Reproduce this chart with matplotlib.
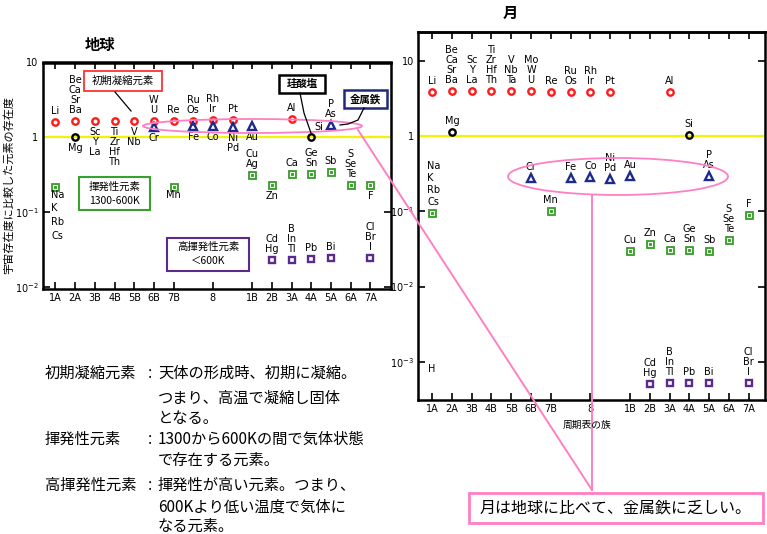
import matplotlib
matplotlib.use("Agg")
import matplotlib.pyplot as plt
from matplotlib.patches import Rectangle, Ellipse
from matplotlib.ticker import NullLocator

plt.rcParams['font.family'] = ['DejaVu Sans', 'Noto Sans CJK JP']
JP = ['Noto Sans CJK JP', 'DejaVu Sans']

W, H = 767, 534

# -----------------------------
# Data (group index on x, abundance relative to cosmic on y)
# -----------------------------
group_pos = [1, 2, 3, 4, 5, 6, 7, 9, 11, 12, 13, 14, 15, 16, 17]
group_lbl = ["1A", "2A", "3B", "4B", "5B", "6B", "7B", "8", "1B", "2B", "3A", "4A", "5A", "6A", "7A"]

# Earth
earth_refr_grp = [1, 2, 3, 4, 5, 6, 7, 8, 9, 10, 13]
earth_refr_val = [1.62, 1.66, 1.64, 1.64, 1.64, 1.64, 1.66, 1.66, 1.72, 1.70, 1.78]
earth_refr_lbl = ["Li", "Be\nCa\nSr\nBa", "Sc\nY\nLa", "Ti\nZr\nHf\nTh", "V\nNb", "W\nU",
                  "Re", "Ru\nOs", "Rh\nIr", "Pt", "Al"]

earth_silic_grp = [2, 14]
earth_silic_val = [1.0, 1.0]
earth_silic_lbl = ["Mg", "Si"]

earth_metal_grp = [6, 8, 9, 10, 11, 15]
earth_metal_val = [1.37, 1.40, 1.40, 1.36, 1.40, 1.45]
earth_metal_lbl = ["Cr", "Fe", "Co", "Ni\nPd", "Au", "P\nAs"]

earth_vol_grp = [1, 7, 11, 12, 13, 14, 15, 16, 17]
earth_vol_val = [0.22, 0.22, 0.32, 0.23, 0.33, 0.33, 0.345, 0.23, 0.23]
earth_vol_lbl = ["Na\nK\nRb\nCs", "Mn", "Cu\nAg", "Zn", "Ca", "Ge\nSn", "Sb", "S\nSe\nTe", "F"]

earth_hvol_grp = [12, 13, 14, 15, 17]
earth_hvol_val = [0.0234, 0.0234, 0.024, 0.0245, 0.0245]
earth_hvol_lbl = ["Cd\nHg", "B\nIn\nTl", "Pb", "Bi", "Cl\nBr\nI"]

# Moon
moon_refr_grp = [1, 2, 3, 4, 5, 6, 7, 8, 9, 10, 13]
moon_refr_val = [3.87, 3.99, 3.99, 3.99, 3.99, 3.99, 3.87, 3.87, 3.87, 3.80, 3.87]
moon_refr_lbl = ["Li", "Be\nCa\nSr\nBa", "Sc\nY\nLa", "Ti\nZr\nHf\nTh", "V\nNb\nTa", "Mo\nW\nU",
                 "Re", "Ru\nOs", "Rh\nIr", "Pt", "Al"]

moon_silic_grp = [2, 14]
moon_silic_val = [1.14, 1.03]
moon_silic_lbl = ["Mg", "Si"]

moon_metal_grp = [6, 8, 9, 10, 11, 15]
moon_metal_val = [0.279, 0.279, 0.288, 0.27, 0.29, 0.29]
moon_metal_lbl = ["Cr", "Fe", "Co", "Ni\nPd", "Au", "P\nAs"]

moon_vol_grp = [1, 7, 11, 12, 13, 14, 15, 16, 17]
moon_vol_val = [0.096, 0.10, 0.030, 0.037, 0.0303, 0.031, 0.0295, 0.041, 0.089]
moon_vol_lbl = ["Na\nK\nRb\nCs", "Mn", "Cu", "Zn", "Ca", "Ge\nSn", "Sb", "S\nSe\nTe", "F"]

moon_hvol_grp = [12, 13, 14, 15, 17]
moon_hvol_val = [5.1e-4, 5.3e-4, 5.2e-4, 5.3e-4, 5.3e-4]
moon_hvol_lbl = ["Cd\nHg", "B\nIn\nTl", "Pb", "Bi", "Cl\nBr\nI"]

moon_h_grp = 1
moon_h_val = 8.0e-4

# label placement: (dx px, dy px, ha, va, linespacing)
PLACE = {
    "up": (0, 6, "center", "bottom", 1.0),
    "dn": (0, -6, "center", "top", 1.0),
    "on": (0, -3, "center", "top", 1.0),
    "ur": (3, 5, "left", "bottom", 1.0),
    "na_dn": (-4, -3, "left", "top", 1.45),
    "na_up": (-5, 6, "left", "bottom", 1.25),
}

RED = "#ff1a1a"
NAVY = "#1c2a8c"
GREEN = "#3aa02c"
PURPLE = "#5b2a8e"
PINK = "#ff7fc4"
YELLOW = "#f2f20a"


def draw_group(ax, grp, val, lbl, side, kind):
    if kind == "refr":
        ax.plot(grp, val, ls="none", marker="o", ms=4.6, mfc="none", mec=RED, mew=1.7, zorder=4)
    elif kind == "silic":
        ax.plot(grp, val, ls="none", marker="o", ms=4.6, mfc="none", mec="black", mew=1.7, zorder=4)
    elif kind == "metal":
        ax.plot(grp, val, ls="none", marker="^", ms=5.5, mfc="none", mec=NAVY, mew=1.7, zorder=4)
    elif kind == "vol":
        ax.plot(grp, val, ls="none", marker="s", ms=5.4, mfc=GREEN, mec=GREEN, mew=0.6, zorder=4)
        ax.plot(grp, val, ls="none", marker="s", ms=2.4, mfc="none", mec="white", mew=0.8, zorder=5)
    elif kind == "hvol":
        ax.plot(grp, val, ls="none", marker="s", ms=4.6, mfc="none", mec=PURPLE, mew=1.7, zorder=4)
    for x, y, t, s in zip(grp, val, lbl, side):
        dx, dy, ha, va, lsp = PLACE[s]
        ax.annotate(t, (x, y), xytext=(dx, dy), textcoords="offset pixels",
                    ha=ha, va=va, fontsize=7, linespacing=lsp, zorder=6)


def style_axes(ax, xlim, ylim, yticks, yticklabels):
    ax.set_yscale("log")
    ax.set_xlim(*xlim)
    ax.set_ylim(*ylim)
    ax.set_xticks(group_pos)
    ax.set_xticklabels(group_lbl)
    ax.set_yticks(yticks)
    ax.set_yticklabels(yticklabels)
    ax.yaxis.set_minor_locator(NullLocator())
    ax.tick_params(axis="both", direction="in", length=5, width=1.2, labelsize=7,
                   right=True, top=False, pad=3)
    ax.tick_params(axis="y", pad=3, labelsize=7)
    top = ax.secondary_xaxis("top")
    top.set_xticks(list(range(1, 18)))
    top.tick_params(direction="in", length=5, width=1.2, labeltop=False)
    top.spines["top"].set_linewidth(1.8)
    for sp in ax.spines.values():
        sp.set_linewidth(1.8)
    ax.axhline(1.0, color=YELLOW, lw=1.6, zorder=2)


def px_rect(left, top, right, bottom):
    return [left / W, 1 - bottom / H, (right - left) / W, (bottom - top) / H]


fig = plt.figure(figsize=(W / 100, H / 100), dpi=100)

# -----------------------------
# Earth panel
# -----------------------------
axE = fig.add_axes(px_rect(42.7, 62.5, 391, 289))
style_axes(axE, (0.35, 18.05), (0.0095, 10.0), [0.01, 0.1, 1, 10],
           ["$10^{-2}$", "$10^{-1}$", "1", "10"])
draw_group(axE, earth_refr_grp, earth_refr_val, earth_refr_lbl,
           ["up", "up", "dn", "dn", "dn", "up", "up", "up", "up", "up", "up"], "refr")
draw_group(axE, earth_silic_grp, earth_silic_val, earth_silic_lbl, ["dn", "ur"], "silic")
draw_group(axE, earth_metal_grp, earth_metal_val, earth_metal_lbl,
           ["dn", "dn", "dn", "dn", "dn", "up"], "metal")
draw_group(axE, earth_vol_grp, earth_vol_val, earth_vol_lbl,
           ["na_dn", "on", "up", "dn", "up", "up", "up", "up", "dn"], "vol")
draw_group(axE, earth_hvol_grp, earth_hvol_val, earth_hvol_lbl, ["up"] * 5, "hvol")

# -----------------------------
# Moon panel
# -----------------------------
axM = fig.add_axes(px_rect(418, 32, 764.5, 400))
style_axes(axM, (0.29, 17.8), (3.12e-4, 24.0), [1e-3, 1e-2, 1e-1, 1, 10],
           ["$10^{-3}$", "$10^{-2}$", "$10^{-1}$", "1", "10"])
draw_group(axM, moon_refr_grp, moon_refr_val, moon_refr_lbl, ["up"] * 11, "refr")
draw_group(axM, moon_silic_grp, moon_silic_val, moon_silic_lbl, ["up", "up"], "silic")
draw_group(axM, moon_metal_grp, moon_metal_val, moon_metal_lbl, ["up"] * 6, "metal")
draw_group(axM, moon_vol_grp, moon_vol_val, moon_vol_lbl,
           ["na_up", "up", "up", "up", "up", "up", "up", "up", "up"], "vol")
draw_group(axM, moon_hvol_grp, moon_hvol_val, moon_hvol_lbl, ["up"] * 5, "hvol")
axM.text(moon_h_grp, moon_h_val, "H", fontsize=7, ha="center", va="center")

# -----------------------------
# Overlay: titles, boxes, pink callouts, notes (pixel coords)
# -----------------------------
ov = fig.add_axes([0, 0, 1, 1], zorder=10)
ov.set_xlim(0, W)
ov.set_ylim(H, 0)
ov.axis("off")

ov.text(100, 45, "地球", family=JP, fontsize=11, weight="bold", ha="center", va="center")
ov.text(510, 13, "月", family=JP, fontsize=11, weight="bold", ha="center", va="center")
ov.text(9, 185, "宇宙存在度に比較した元素の存在度", family=JP, fontsize=8,
        rotation=90, ha="center", va="center")
ov.text(587, 425, "周期表の族", family=JP, fontsize=7, ha="center", va="center")

# category boxes on the Earth panel
ov.add_patch(Rectangle((84, 71), 78, 20, fc="white", ec="#ff3030", lw=1.3))
ov.text(123, 81, "初期凝縮元素", family=JP, fontsize=7.5, ha="center", va="center")
ov.plot([115, 131], [92, 111], color="black", lw=0.9)

ov.add_patch(Rectangle((279, 75), 46, 18, fc="white", ec="black", lw=1.8))
ov.text(302, 84, "珪酸塩", family=JP, fontsize=7.5, weight="bold", ha="center", va="center")
ov.plot([300, 304, 311], [93, 113, 133], color="black", lw=0.9)

ov.add_patch(Rectangle((344, 90), 43, 18, fc="white", ec="#1f2a7a", lw=1.8))
ov.text(365.5, 99, "金属鉄", family=JP, fontsize=7.5, weight="bold", ha="center", va="center")
ov.plot([364, 358, 348, 340], [108, 120, 124, 125], color="black", lw=0.9)

ov.add_patch(Rectangle((79, 177), 71, 33, fc="white", ec=GREEN, lw=1.5))
ov.text(114.5, 187, "揮発性元素", family=JP, fontsize=7.5, ha="center", va="center")
ov.text(114.5, 201, "1300-600K", family=JP, fontsize=7.5, ha="center", va="center")

ov.add_patch(Rectangle((167, 238), 82, 33, fc="white", ec=PURPLE, lw=1.5))
ov.text(208, 247, "高揮発性元素", family=JP, fontsize=7.5, ha="center", va="center")
ov.text(208, 261, "＜600K", family=JP, fontsize=7.5, ha="center", va="center")

# pink callouts
ov.add_patch(Ellipse((252.5, 126), 219, 14, fill=False, ec=PINK, lw=1.3))
ov.add_patch(Ellipse((618, 176.5), 220, 37, fill=False, ec=PINK, lw=1.3))
ov.plot([358, 592], [130, 490], color=PINK, lw=1.4)
ov.plot([592, 592], [195, 490], color=PINK, lw=1.4)
ov.add_patch(Rectangle((469, 493), 294, 30, fc="white", ec=PINK, lw=2))
ov.text(616, 508, "月は地球に比べて、金属鉄に乏しい。", family=JP, fontsize=11.5,
        ha="center", va="center")

# notes
notes = [
    (373, "初期凝縮元素", "天体の形成時、初期に凝縮。"),
    (398, "", "つまり、高温で凝縮し固体"),
    (419, "", "となる。"),
    (439, "揮発性元素", "1300から600Kの間で気体状態"),
    (460, "", "で存在する元素。"),
    (485, "高揮発性元素", "揮発性が高い元素。つまり、"),
    (507, "", "600Kより低い温度で気体に"),
    (526, "", "なる元素。"),
]
for y, term, desc in notes:
    if term:
        ov.text(45, y, term, family=JP, fontsize=11, ha="left", va="center")
        ov.text(150, y, ":", family=JP, fontsize=11, ha="center", va="center")
    ov.text(158, y, desc, family=JP, fontsize=11, ha="left", va="center")

fig.savefig("out.png", dpi=100)
